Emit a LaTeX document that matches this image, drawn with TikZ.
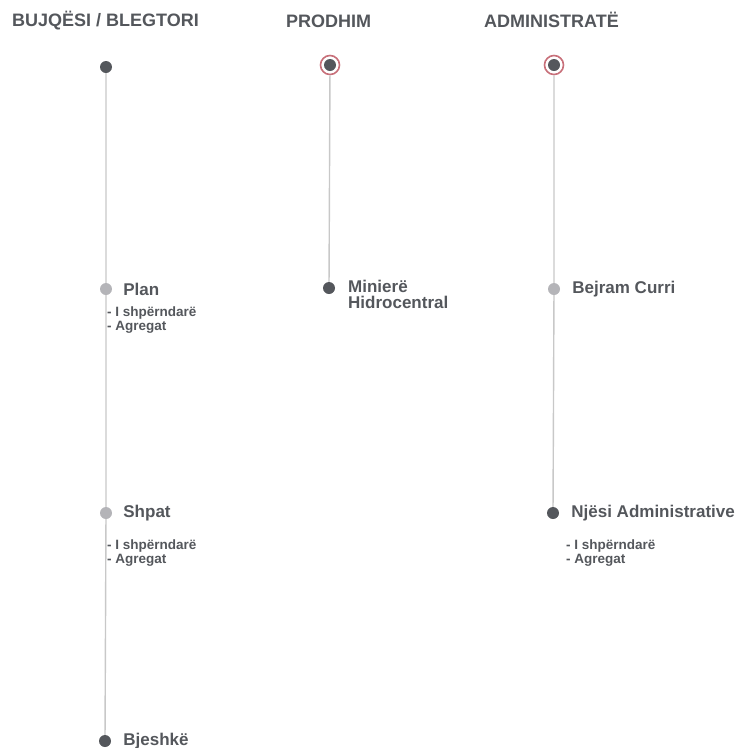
\documentclass[tikz,border=0pt]{standalone}
\usepackage{fontspec}
\setmainfont{Liberation Sans}
\usetikzlibrary{positioning}

\definecolor{scuro}{HTML}{54575C}
\definecolor{chiaro}{HTML}{B4B4B8}
\definecolor{linea}{HTML}{C8C8C8}
\definecolor{anello}{HTML}{C8707A}

\tikzset{
    titolo/.style={font=\bfseries\fontsize{18}{20}\selectfont, text=scuro, anchor=west, inner sep=0pt},
    voce/.style={font=\bfseries\fontsize{17}{16}\selectfont, text=scuro, anchor=west, inner sep=0pt, align=left},
    sottovoce/.style={font=\bfseries\fontsize{13.5}{13.5}\selectfont, text=scuro, anchor=north west, inner sep=0pt, align=left},
    punto scuro/.style={circle, fill=scuro, minimum size=12pt, inner sep=0pt},
    punto chiaro/.style={circle, fill=chiaro, minimum size=12pt, inner sep=0pt},
    punto anello/.style={circle, draw=anello, line width=1.6pt, fill=white, minimum size=19pt, inner sep=0pt,
        path picture={\fill[scuro] (path picture bounding box.center) circle (6pt);}},
    filo/.style={draw=linea, line width=1.4pt}
}

\begin{document}
\begin{tikzpicture}[x=1pt, y=-1pt]

    \useasboundingbox (0,0) rectangle (735,748);

    % --- TITOLI DELLE COLONNE ---
    \node[titolo] (t1) at (12, 21) {BUJQËSI / BLEGTORI};
    \node[titolo] (t2) at (286, 21) {PRODHIM};
    \node[titolo] (t3) at (484, 20) {ADMINISTRATË};

    % --- NODI ---
    % Colonna 1
    \node[punto scuro]  (a0) at (106, 67) {};
    \node[punto chiaro] (a1) at (106, 289) {};
    \node[punto chiaro] (a2) at (106, 513) {};
    \node[punto scuro]  (a3) at (105, 741) {};

    % Colonna 2
    \node[punto anello] (b0) at (330, 65) {};
    \node[punto scuro]  (b1) at (329, 288) {};

    % Colonna 3
    \node[punto anello] (c0) at (554, 65) {};
    \node[punto chiaro] (c1) at (554, 289) {};
    \node[punto scuro]  (c2) at (553, 513) {};

    % --- LINEE ---
    \path[filo] (a0) -- (a1) -- (a2) -- (a3);
    \path[filo] (b0) -- (b1);
    \path[filo] (c0) -- (c1) -- (c2);

    % --- ETICHETTE ---
    \node[voce, right=11pt of a1] (l1) {Plan};
    \node[sottovoce] (s1) at (107, 307) {- I shpërndarë\\- Agregat};

    \node[voce, right=11pt of a2] (l2) {Shpat};
    \node[sottovoce] (s2) at (107, 540) {- I shpërndarë\\- Agregat};

    \node[voce, right=12pt of a3] (l3) {Bjeshkë};

    \node[voce, anchor=north west] (l4) at (348, 280) {Minierë\\Hidrocentral};

    \node[voce, right=12pt of c1] (l5) {Bejram Curri};
    \node[voce, right=12pt of c2] (l6) {Njësi Administrative};
    \node[sottovoce] (s3) at (566, 540) {- I shpërndarë\\- Agregat};

\end{tikzpicture}
\end{document}
